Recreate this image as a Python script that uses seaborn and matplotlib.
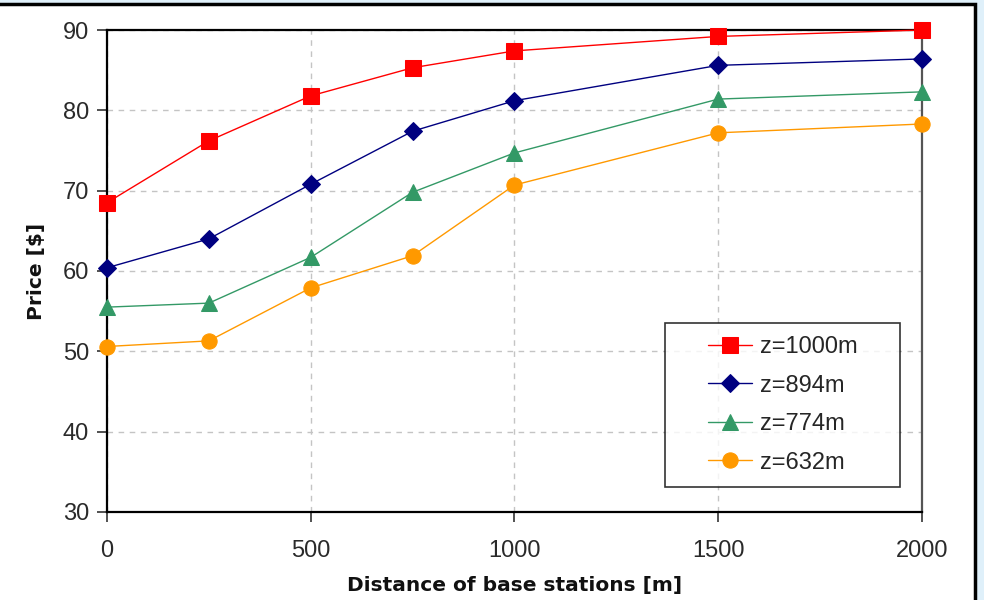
import matplotlib
matplotlib.use("Agg")
import matplotlib.pyplot as plt
import seaborn as sns
import pandas as pd
from matplotlib.patches import Rectangle
from matplotlib.lines import Line2D
from matplotlib.legend_handler import HandlerLine2D

distance = [0, 250, 500, 750, 1000, 1500, 2000]
z1000 = [68.5, 76.2, 81.8, 85.3, 87.4, 89.2, 90.0]
z894 = [60.4, 64.0, 70.8, 77.4, 81.2, 85.6, 86.4]
z774 = [55.5, 56.0, 61.7, 69.8, 74.7, 81.4, 82.3]
z632 = [50.6, 51.3, 57.9, 61.9, 70.7, 77.2, 78.3]
labels = ["z=1000m", "z=894m", "z=774m", "z=632m"]
x_ticks = [0, 500, 1000, 1500, 2000]
y_ticks = [30, 40, 50, 60, 70, 80, 90]

series = [z1000, z894, z774, z632]
rows = []
for lab, vals in zip(labels, series):
    for d, v in zip(distance, vals):
        rows.append({"Distance": d, "Price": v, "series": lab})
df = pd.DataFrame(rows)

sns.set_theme(style="white")
plt.rcParams["font.family"] = ["Liberation Sans", "DejaVu Sans"]

colors = {"z=1000m": "#ff0000", "z=894m": "#000080", "z=774m": "#339966", "z=632m": "#ff9900"}
markers = {"z=1000m": "s", "z=894m": "D", "z=774m": "^", "z=632m": "o"}
msizes = {"z=1000m": 12, "z=894m": 9, "z=774m": 11, "z=632m": 11}


class ShiftedLineHandler(HandlerLine2D):
    """Leaves blank space at the left of the handle area."""
    def __init__(self, blank_em=1.4, **kw):
        super().__init__(**kw)
        self.blank_em = blank_em

    def create_artists(self, legend, orig_handle, xdescent, ydescent, width,
                       height, fontsize, trans):
        shift = self.blank_em * fontsize
        return super().create_artists(legend, orig_handle, xdescent - shift, ydescent,
                                      width - shift, height, fontsize, trans)


fig = plt.figure(figsize=(9.84, 6), dpi=100)
fig.patch.set_facecolor("#dff0fa")
fig.patches.append(Rectangle((-0.01, -0.05), 1.001, 1.0433, transform=fig.transFigure,
                             facecolor="white", edgecolor="black", linewidth=2.5, zorder=-5))
ax = fig.add_axes([0.1087, 0.1467, 0.8283, 0.8033])
ax.set_zorder(1)
ax.set_facecolor("white")

for lab in labels:
    sub = df[df["series"] == lab]
    sns.lineplot(data=sub, x="Distance", y="Price", ax=ax, color=colors[lab],
                 marker=markers[lab], markersize=msizes[lab], markeredgecolor=colors[lab],
                 linewidth=1.0, label=lab, clip_on=False, zorder=3)

ax.set_xlim(0, 2000)
ax.set_ylim(30, 90)
ax.set_xticks(x_ticks)
ax.set_yticks(y_ticks)
ax.grid(True, color="#c4c4c4", linestyle=(0, (4, 4)), linewidth=1.0)
for s in ax.spines.values():
    s.set_visible(True)
    s.set_color("black")
    s.set_linewidth(1.6)
ax.spines["right"].set_color("#555555")
ax.tick_params(axis="both", direction="out", length=7, width=1.2, color="#333333",
               labelsize=17, labelcolor="#2a2a2a", bottom=True, left=True)
ax.tick_params(axis="x", pad=13)
ax.tick_params(axis="y", pad=6)
ax.set_xlabel("Distance of base stations [m]", fontsize=14.5, fontweight="bold",
              family="DejaVu Sans", labelpad=10, color="#111111")
ax.set_ylabel("Price [$]", fontsize=14.5, fontweight="bold", family="DejaVu Sans",
              labelpad=12, color="#111111")

handles, labs = ax.get_legend_handles_labels()
leg = ax.legend(handles, labs, loc="upper left", bbox_to_anchor=(0.6847, 0.0519, 0.2883, 0.340),
                mode="expand", frameon=True, fancybox=False, fontsize=17,
                handlelength=3.14, handletextpad=0.34, labelspacing=0.70,
                borderpad=0.55, borderaxespad=0,
                handler_map={Line2D: ShiftedLineHandler(blank_em=1.27)})
leg.get_frame().set_edgecolor("black")
leg.get_frame().set_linewidth(1.2)
for h in leg.legend_handles:
    h.set_linewidth(1.0)

fig.savefig("out.png", dpi=100)
